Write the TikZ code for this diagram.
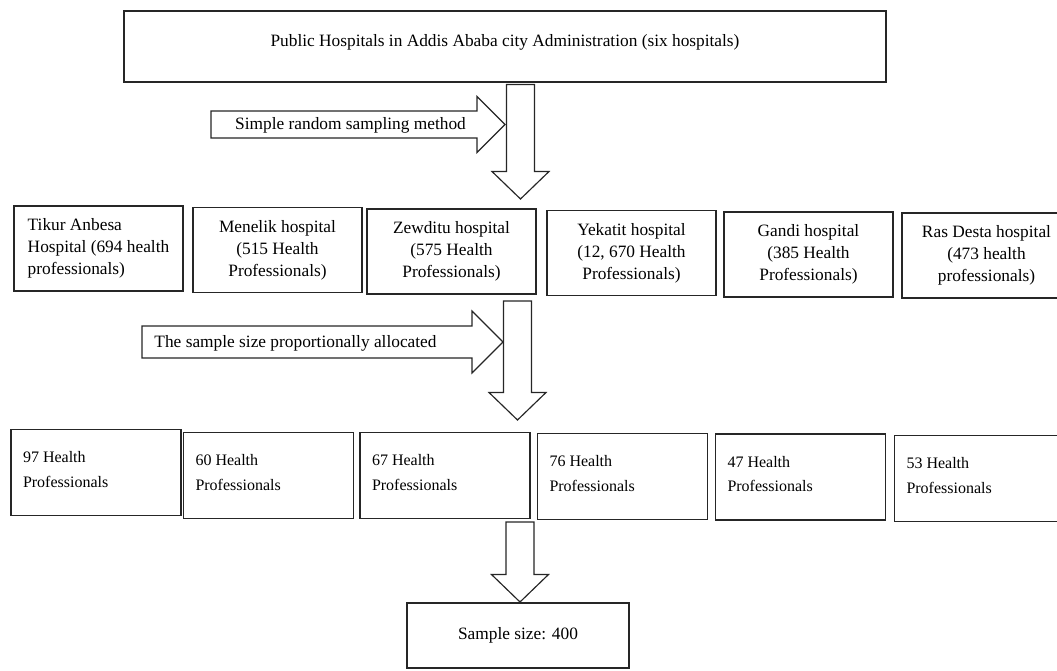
\documentclass[tikz,border=0pt]{standalone}
\usepackage{fontspec}
\setmainfont{Liberation Serif}
\usetikzlibrary{calc}

\newcommand{\downblock}[2]{%
  \draw[blockarrow] ($(#1)+(-14,0)$) -- ($(#2)+(-14,-27.5)$) -- ($(#2)+(-28.5,-27.5)$) -- (#2)
    -- ($(#2)+(28.5,-27.5)$) -- ($(#2)+(14,-27.5)$) -- ($(#1)+(14,0)$) -- cycle;}
\newcommand{\rightblock}[4]{%
  \draw[blockarrow] ($(#1)+(0,-#3)$) -- ($(#2)+(-#4,-#3)$) -- ($(#2)+(-#4,-#4)$) -- (#2)
    -- ($(#2)+(-#4,#4)$) -- ($(#2)+(-#4,#3)$) -- ($(#1)+(0,#3)$) -- cycle;}
\newcommand{\topleft}[1]{\parbox[c][25pt][t]{87.6pt}{#1}}

\begin{document}
\begin{tikzpicture}[
    x=0.6pt, y=-0.6pt,
    font=\fontsize{10.4}{13.2}\selectfont,
    blockarrow/.style = {draw=black!85, line width=.7pt, fill=white, line join=miter},
    mainbox/.style = {rectangle, draw=black!85, line width=.7pt, minimum width=457.2pt, minimum height=42.6pt, text depth=7pt},
    hospital/.style = {rectangle, draw=black!85, line width=.7pt, minimum width=101.4pt, minimum height=51pt, align=center},
    countbox/.style = {rectangle, draw=black!85, line width=.7pt, minimum width=102pt, minimum height=51.6pt, inner sep=0pt, font=\fontsize{9.6}{14.7}\selectfont},
    result/.style = {rectangle, draw=black!85, line width=.7pt, minimum width=133.2pt, minimum height=39pt},
    arrowtext/.style = {inner sep=0pt}
  ]
  \useasboundingbox (0,0) rectangle (1057,671);
  \clip (0,0) rectangle (1057,671);

  \node (pubhosp) [mainbox] at (505,46.5) {Public Hospitals in Addis Ababa city Administration (six hospitals)};

  \node (tikur) [hospital, align=left] at (98.5,248.5) {Tikur Anbesa\\Hospital (694 health\\professionals)};
  \node (menelik) [hospital] at (277.5,250) {Menelik hospital\\(515 Health\\Professionals)};
  \node (zewditu) [hospital] at (451.5,251.5) {Zewditu hospital\\(575 Health\\Professionals)};
  \node (yekatit) [hospital] at (631.5,253) {Yekatit hospital\\(12, 670 Health\\Professionals)};
  \node (gandi) [hospital] at (808.5,254.5) {Gandi hospital\\(385 Health\\Professionals)};
  \node (rasdesta) [hospital] at (986.5,255.5) {Ras Desta hospital\\(473 health\\professionals)};

  \node (tikurn) [countbox] at (96,472.5) {\topleft{97 Health\\Professionals}};
  \node (meneliknn) [countbox] at (268.5,475.5) {\topleft{60 Health\\Professionals}};
  \node (zewditun) [countbox] at (445,475.5) {\topleft{67 Health\\Professionals}};
  \node (yekatitn) [countbox] at (622.5,476.5) {\topleft{76 Health\\Professionals}};
  \node (gandin) [countbox] at (800.5,477) {\topleft{47 Health\\Professionals}};
  \node (rasdestan) [countbox] at (979.5,478.5) {\topleft{53 Health\\Professionals}};

  \node (sample) [result] at (518,635.5) {Sample size: 400};

  \coordinate (srstail) at (211,124.5);
  \coordinate (srstip) at (505,124.5);
  \coordinate (proptail) at (142,342);
  \coordinate (proptip) at (503,342);
  \coordinate (d1top) at (520.5,84.5);
  \coordinate (d1tip) at (520.5,199);
  \coordinate (d2top) at (517.5,301);
  \coordinate (d2tip) at (517.5,420);
  \coordinate (d3top) at (520,522);
  \coordinate (d3tip) at (520,602);

  \rightblock{srstail}{srstip}{13.5}{28}
  \rightblock{proptail}{proptip}{16}{31}
  \downblock{d1top}{d1tip}
  \downblock{d2top}{d2tip}
  \downblock{d3top}{d3tip}

  \node (srs) [arrowtext] at (350.5,125) {Simple random sampling method};
  \node (prop) [arrowtext] at (295.5,343) {The sample size proportionally allocated};
\end{tikzpicture}
\end{document}
